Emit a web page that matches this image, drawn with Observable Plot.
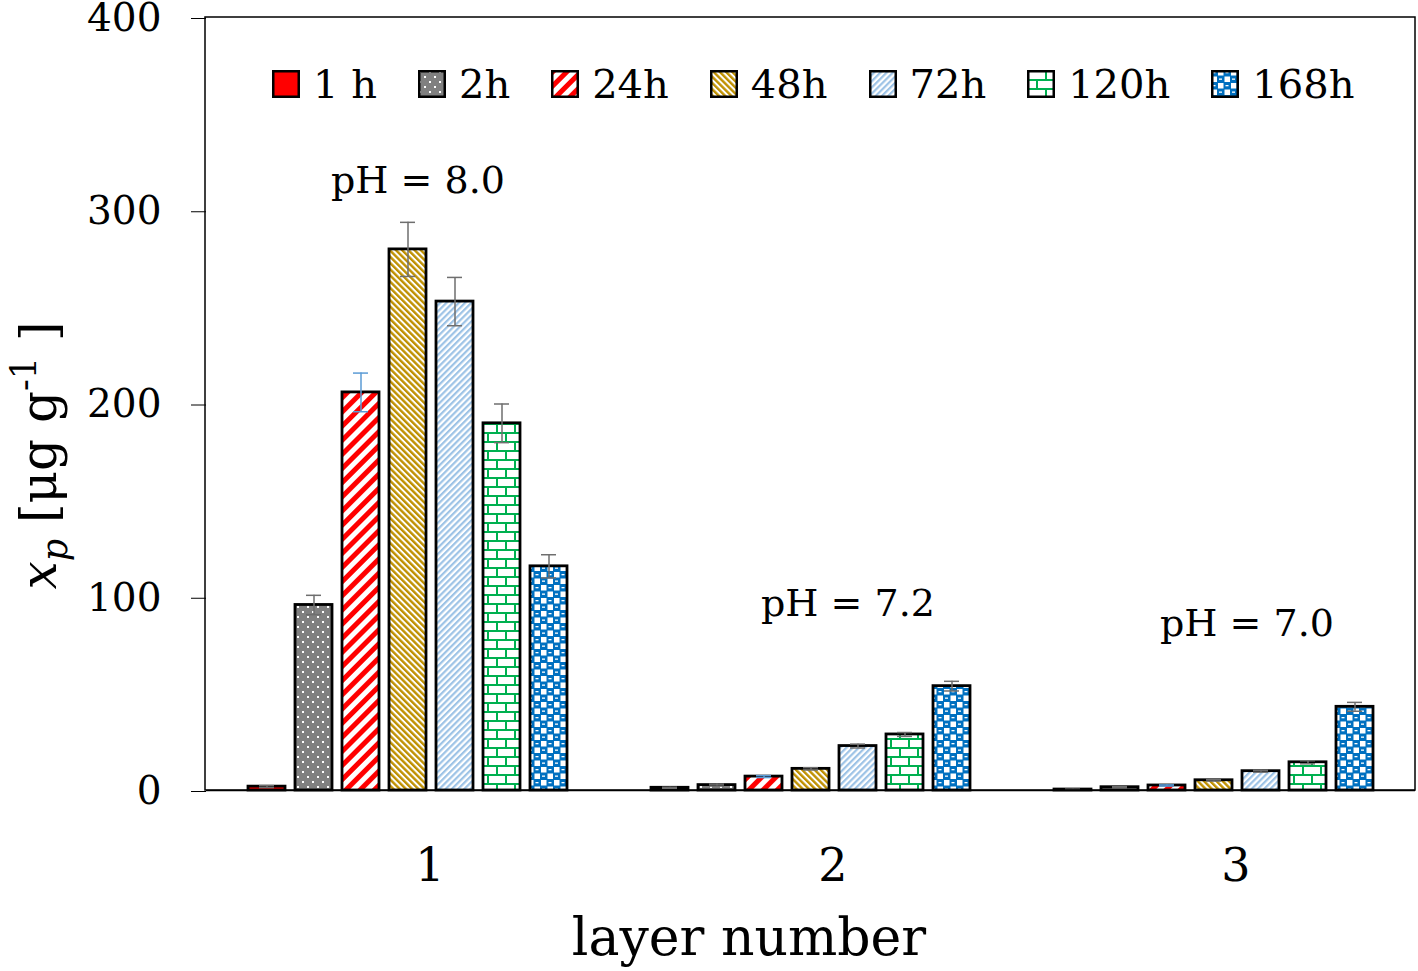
<!DOCTYPE html>
<html>
<head>
<meta charset="utf-8">
<script src="https://cdn.jsdelivr.net/npm/d3@7"></script>
<script src="https://cdn.jsdelivr.net/npm/@observablehq/plot@0.6"></script>
<style>
  html, body { margin: 0; padding: 0; background: #fff; }
  #wrap { position: relative; width: 1418px; height: 971px; font-family: "DejaVu Serif", serif; }
  #legend { position: absolute; left: 272px; top: 61px; display: flex; align-items: center; font-size: 40px; color: #000; }
  #legend .item { display: flex; align-items: center; margin-right: 41px; }
  #legend svg { margin-right: 13px; }
  g[aria-label="y-axis tick label"] { font-size: 39px; }
  g[aria-label="fx-axis tick label"] { font-size: 46px; }
</style>
</head>
<body>
<svg width="0" height="0" style="position:absolute">
  <defs>
    <pattern id="pat2h" patternUnits="userSpaceOnUse" width="10" height="10">
      <rect width="10" height="10" fill="#808080"/>
      <rect x="1" y="1" width="2" height="2" fill="#fff"/>
      <rect x="6" y="6" width="2" height="2" fill="#fff"/>
    </pattern>
    <pattern id="pat24h" patternUnits="userSpaceOnUse" width="10" height="10" patternTransform="rotate(45)">
      <rect width="10" height="10" fill="#fff"/>
      <rect width="5" height="10" fill="#FF0000"/>
    </pattern>
    <pattern id="pat48h" patternUnits="userSpaceOnUse" width="4.4" height="4.4" patternTransform="rotate(-45)">
      <rect width="4.4" height="4.4" fill="#fff"/>
      <rect width="2.4" height="4.4" fill="#BF9000"/>
    </pattern>
    <pattern id="pat72h" patternUnits="userSpaceOnUse" width="4.4" height="4.4" patternTransform="rotate(45)">
      <rect width="4.4" height="4.4" fill="#fff"/>
      <rect width="2.2" height="4.4" fill="#9DC3E6"/>
    </pattern>
    <pattern id="pat120h" patternUnits="userSpaceOnUse" width="18" height="18">
      <rect width="18" height="18" fill="#fff"/>
      <path d="M0 1H18M0 10H18M1 1V10M10 10V18" stroke="#00B050" stroke-width="2" fill="none"/>
    </pattern>
    <pattern id="pat168h" patternUnits="userSpaceOnUse" width="13" height="13">
      <rect width="13" height="13" fill="#0070C0"/>
      <rect x="7" y="0" width="5.5" height="5.5" fill="#fff"/>
      <rect x="0.5" y="6.5" width="5.5" height="5.5" fill="#fff"/>
      <rect x="1.5" y="2" width="3" height="1.3" fill="#fff"/>
      <rect x="8" y="8.5" width="3" height="1.3" fill="#fff"/>
    </pattern>
  </defs>
</svg>
<div id="wrap">
  <div id="chart"></div>
  <div id="legend"></div>
</div>
<script>
// ---- data ----
const layers = ["1", "2", "3"];
const series = ["1 h", "2h", "24h", "48h", "72h", "120h", "168h"];
const layer1Values = [2, 96, 206, 280, 253, 190, 116];
const layer2Values = [1.4, 2.8, 7.2, 11.2, 23, 29, 54];
const layer3Values = [0.5, 1.7, 2.6, 5.3, 10, 14.6, 43.3];
const layer1Errors = [0.5, 5, 10, 14, 12.5, 10, 6];
const layer2Errors = [0.3, 0.5, 0.5, 0.6, 1, 1, 2.5];
const layer3Errors = [0.2, 0.3, 0.3, 0.4, 0.5, 0.8, 2.3];
const annotationTexts = ["pH = 8.0", "pH = 7.2", "pH = 7.0"];
const annotationAnchorSeries = ["48h", "72h", "72h"];
const annotationAnchorY = [315.5, 96.5, 86];
const yTicks = [0, 100, 200, 300, 400];

(function () {
// ---- styles (not data) ----
const seriesFill = {
  "1 h": "#FF0000", "2h": "url(#pat2h)", "24h": "url(#pat24h)", "48h": "url(#pat48h)",
  "72h": "url(#pat72h)", "120h": "url(#pat120h)", "168h": "url(#pat168h)"
};
const errColor = s => s === "24h" ? "#5B9BD5" : "#6E6E6E";
const annotationDx = [10, -10, -14];

const valuesByLayer = [layer1Values, layer2Values, layer3Values];
const errorsByLayer = [layer1Errors, layer2Errors, layer3Errors];
const rows = [];
layers.forEach((L, i) => series.forEach((s, j) => {
  rows.push({layer: L, series: s, value: valuesByLayer[i][j], err: errorsByLayer[i][j]});
}));
const annotations = layers.map((L, i) => ({layer: L, series: annotationAnchorSeries[i], y: annotationAnchorY[i], text: annotationTexts[i]}));

const plot = Plot.plot({
  width: 1418,
  height: 971,
  marginLeft: 205,
  marginRight: 3,
  marginTop: 17,
  marginBottom: 181,
  style: {fontFamily: "DejaVu Serif, serif", color: "#000", background: "#fff"},
  color: {type: "identity"},
  fx: {domain: layers, padding: 0},
  x: {domain: series, paddingInner: 0.22, paddingOuter: 0.85, axis: null},
  y: {domain: [0, 400]},
  marks: [
    Plot.barY(rows, {
      fx: "layer", x: "series", y: "value",
      fill: d => seriesFill[d.series], stroke: "#000", strokeWidth: 2.8
    }),
    Plot.ruleX(rows, {
      fx: "layer", x: "series", y1: d => d.value - d.err, y2: d => d.value + d.err,
      stroke: d => errColor(d.series), strokeWidth: 1.5
    }),
    Plot.tickY(rows, {
      fx: "layer", x: "series", y: d => d.value + d.err,
      stroke: d => errColor(d.series), strokeWidth: 1.5, insetLeft: 11, insetRight: 11
    }),
    Plot.tickY(rows, {
      fx: "layer", x: "series", y: d => d.value - d.err,
      stroke: d => errColor(d.series), strokeWidth: 1.5, insetLeft: 11, insetRight: 11
    }),
    Plot.ruleY([0], {stroke: "#000", strokeWidth: 1.5}),
    ...annotations.map((a, i) => Plot.text([a], {
      fx: "layer", x: "series", y: "y", text: "text",
      fontSize: 38, fill: "#000", dx: annotationDx[i]
    })),
    Plot.axisY({ticks: yTicks, tickSize: 15, tickPadding: 30, tickFormat: d => String(d), label: null, stroke: "#000", dy: 1}),
    Plot.axisFx({anchor: "bottom", tickSize: 0, tickPadding: 58, label: null, dx: 22})
  ]
});

document.getElementById("chart").appendChild(plot);

// frame around plot area and axis titles
const svg = d3.select(plot);
const yS = plot.scale("y");
const yTop = yS.apply(400), yBottom = yS.apply(0);
const xLeft = 205, xRight = 1418 - 3;
svg.append("rect")
  .attr("x", xLeft).attr("y", yTop).attr("width", xRight - xLeft).attr("height", yBottom - yTop)
  .attr("fill", "none").attr("stroke", "#000").attr("stroke-width", 1.5);

svg.append("text")
  .attr("x", 749).attr("y", 955)
  .attr("text-anchor", "middle")
  .attr("font-size", 52)
  .attr("fill", "#000")
  .text("layer number");

const yl = svg.append("text")
  .attr("transform", `translate(56, ${(yTop + yBottom) / 2 + 52}) rotate(-90)`)
  .attr("text-anchor", "middle")
  .attr("font-size", 50)
  .attr("fill", "#000");
yl.append("tspan").attr("font-style", "italic").text("x");
yl.append("tspan").attr("font-style", "italic").attr("font-size", 35).attr("dy", 11).text("p");
yl.append("tspan").attr("dy", -11).text(" [μg g");
yl.append("tspan").attr("font-size", 35).attr("dy", -20).text("-1");
yl.append("tspan").attr("dy", 20).text(" ]");

// legend (HTML overlay inside the plot frame)
const legend = d3.select("#legend");
series.forEach(s => {
  const item = legend.append("div").attr("class", "item");
  const sw = item.append("svg").attr("width", 28).attr("height", 28);
  sw.append("rect").attr("x", 1.25).attr("y", 1.25).attr("width", 25.5).attr("height", 25.5)
    .attr("fill", seriesFill[s]).attr("stroke", "#000").attr("stroke-width", 2.5);
  item.append("span").text(s);
});
})();
</script>
</body>
</html>
